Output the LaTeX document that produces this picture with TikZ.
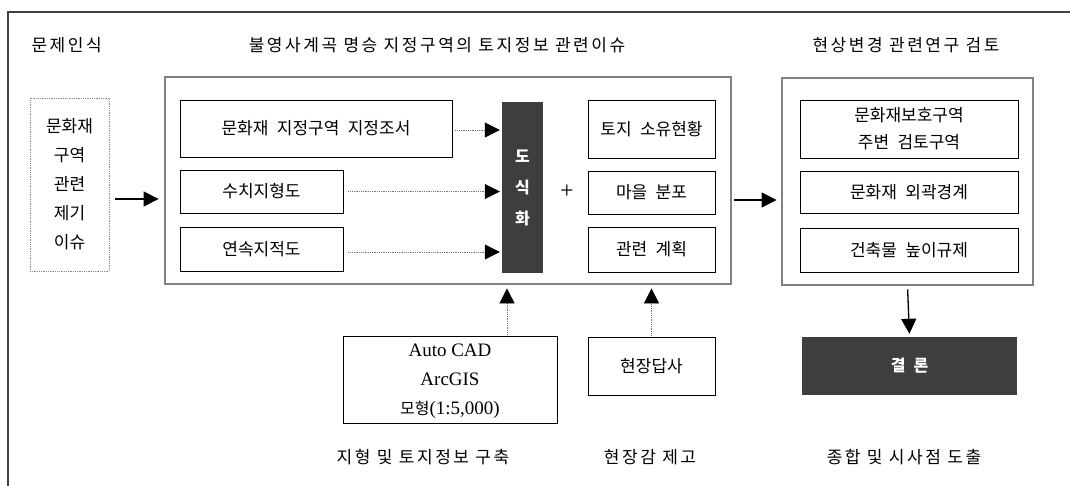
\documentclass[tikz,border=0pt]{standalone}
\usepackage{fontspec}
\setmainfont[WordSpace=2.2]{Noto Sans CJK KR}
\newfontfamily\headfont[LetterSpace=15]{Noto Sans CJK KR}
\newfontfamily\romanfont{Liberation Serif}
\usetikzlibrary{arrows.meta}
\definecolor{framegray}{RGB}{130,130,130}
\definecolor{darkfill}{RGB}{62,62,62}

\begin{document}
\begin{tikzpicture}[x=1pt, y=-1pt, font=\fontsize{17}{20}\selectfont,
        box/.style = {draw, line width=0.8pt, inner sep=0pt, align=center},
        issuebox/.style = {draw=black!45, densely dotted, line width=0.8pt, inner sep=0pt, align=center, font=\fontsize{17}{29}\selectfont},
        bigframe/.style = {draw=framegray, line width=2.8pt, inner sep=0pt},
        darkbox/.style = {fill=darkfill, text=white, inner sep=0pt, align=center, font=\fontsize{16}{31}\selectfont\bfseries},
        head/.style = {font=\fontsize{17}{20}\selectfont\headfont},
        go/.style = {-{Triangle[length=15pt,width=15pt]}, line width=1.3pt},
        hint/.style = {densely dotted, draw=black!55, line width=0.8pt, -{Triangle[black,length=15pt,width=15pt]}}]
    \useasboundingbox (0,0) rectangle (1070,486);
    % outer frame
    \draw[line width=1.5pt, black!75] (1070,12) -- (8,12) -- (8,486);
    % headings
    \node[head, anchor=west] (h1) at (28,45) {문제인식};
    \node[head] (h2) at (437,45) {불영사계곡 명승 지정구역의 토지정보 관련이슈};
    \node[head] (h3) at (906,45) {현상변경 관련연구 검토};
    \node[head] (f1) at (423,457) {지형 및 토지정보 구축};
    \node[head] (f2) at (650,457) {현장감 제고};
    \node[head] (f3) at (904,457) {종합 및 시사점 도출};
    % problem
    \node[issuebox, minimum width=79pt, minimum height=173pt] (prob) at (69.5,184.5) {문화재\\구역\\관련\\제기\\이슈};
    % land information issues
    \node[bigframe, minimum width=566pt, minimum height=207pt] (issue) at (448,180.5) {};
    \node[box, minimum width=272pt, minimum height=57pt] (docs) at (316,128.5) {문화재 지정구역 지정조서};
    \node[box, minimum width=163pt, minimum height=43pt] (topo) at (261.5,191.5) {수치지형도};
    \node[box, minimum width=163pt, minimum height=44pt] (cadas) at (261.5,249) {연속지적도};
    \node[darkbox, minimum width=41pt, minimum height=171pt] (mapbar) at (522.5,187.5) {도\\식\\화};
    \node[font=\fontsize{24}{24}\selectfont\romanfont] (plus) at (567,192) {+};
    \node[box, minimum width=127pt, minimum height=58pt] (own) at (651.5,129) {토지 소유현황};
    \node[box, minimum width=127pt, minimum height=43pt] (village) at (651.5,192.5) {마을 분포};
    \node[box, minimum width=127pt, minimum height=45pt] (plan) at (651.5,249.5) {관련 계획};
    % review of studies
    \node[bigframe, minimum width=251pt, minimum height=207pt] (review) at (907.5,181.5) {};
    \node[box, minimum width=218pt, minimum height=58pt, font=\fontsize{17}{27}\selectfont] (buffer) at (909,129) {문화재보호구역\\주변 검토구역};
    \node[box, minimum width=218pt, minimum height=42pt] (outline) at (909,192) {문화재 외곽경계};
    \node[box, minimum width=218pt, minimum height=44pt] (height) at (909,250) {건축물 높이규제};
    \node[darkbox, minimum width=215pt, minimum height=58pt] (concl) at (909.5,366) {결 론};
    % data building and field survey
    \node[box, minimum width=214pt, minimum height=87pt, font=\fontsize{19}{29}\selectfont\romanfont] (tools) at (450,379.5) {\rule{0pt}{17pt}Auto CAD\\ArcGIS\\{\fontsize{16}{29}\selectfont\rmfamily 모형}(1:5,000)};
    \node[box, minimum width=127pt, minimum height=58pt] (field) at (651.5,366) {현장답사};
    \coordinate (lvl) at (0,199);
    % connectors
    \draw[go, shorten <=6pt, shorten >=5pt] (prob.east |- lvl) -- (issue.west |- lvl);
    \draw[go, shorten <=2pt, shorten >=4pt] ([yshift=-19.5pt]issue.east) -- ([yshift=-18.5pt]review.west);
    \draw[go, shorten <=3pt, shorten >=3pt] (review.south) -- (concl.north);
    \draw[hint, shorten <=3pt, shorten >=2pt] ([yshift=-1.5pt]docs.east) -- ([yshift=-1.5pt]docs.east -| mapbar.west);
    \draw[hint, shorten <=5pt, shorten >=2pt] (topo.east) -- (topo.east -| mapbar.west);
    \draw[hint, shorten <=5pt, shorten >=2pt] ([yshift=-3pt]cadas.east) -- ([yshift=-3pt]cadas.east -| mapbar.west);
    \draw[hint, shorten <=1pt, shorten >=3pt] ([xshift=57pt]tools.north) -- ([xshift=57pt]tools.north |- issue.south);
    \draw[hint, shorten <=1pt, shorten >=3pt] (field.north) -- (field.north |- issue.south);
\end{tikzpicture}
\end{document}
